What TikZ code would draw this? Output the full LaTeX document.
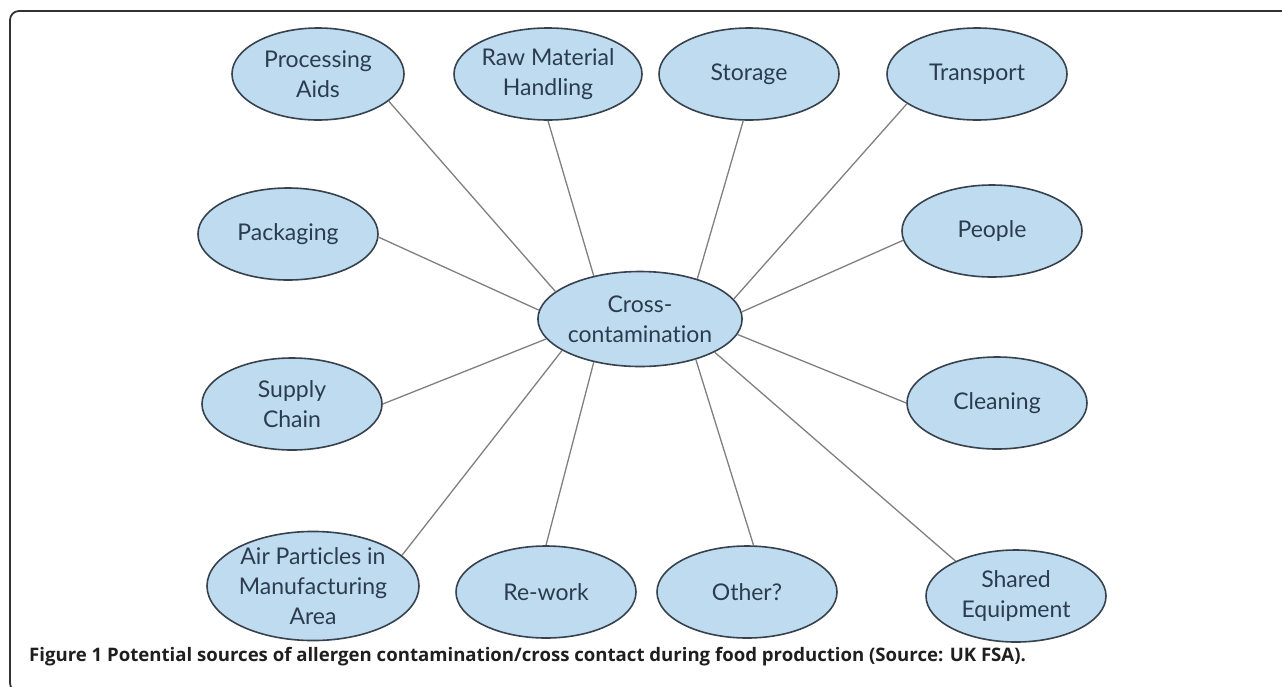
\documentclass[tikz,border=0pt]{standalone}
\usepackage{fontspec}
\setmainfont{Lato}[Ligatures=NoCommon]
\newfontfamily\captionfont{Open Sans}
\usetikzlibrary{shapes.geometric}
\definecolor{bubblefill}{RGB}{190,219,240}
\definecolor{bubbleborder}{RGB}{55,66,78}
\definecolor{bubbletext}{RGB}{44,60,78}
\definecolor{linkgray}{RGB}{128,128,128}
\definecolor{framegray}{RGB}{50,50,50}

\begin{document}
\begin{tikzpicture}[
  x=1pt, y=-1pt,
  % source bubble style
  srcnode/.style={
    ellipse, draw=bubbleborder, fill=bubblefill, line width=1.6pt,
    minimum width=180pt, minimum height=92pt, inner sep=0pt,
    align=center, text=bubbletext, font=\fontsize{23}{30}\selectfont
  },
  % thin grey connector
  conn/.style={linkgray, line width=1.3pt}
]
\useasboundingbox (0,0) rectangle (1282,686);
\fill[white] (0,0) rectangle (1282,686);

% ─── Figure frame ───────────────────────────────────────────────────────────
\draw[framegray, line width=1.8pt, rounded corners=9pt]
  (1300,11) -- (10,11) -- (10,692) -- (1300,692);

% ─── Centre node ────────────────────────────────────────────────────────────
\node[srcnode, minimum width=195pt, minimum height=95pt] (cross)
  at (640,319) {Cross-\\contamination};

% ─── Top row ────────────────────────────────────────────────────────────────
\node[srcnode, minimum width=172pt] (proc) at (318,74) {Processing\\Aids};
\node[srcnode] (raw)   at (548,74) {Raw Material\\Handling};
\node[srcnode] (store) at (749,74) {Storage};
\node[srcnode] (trans) at (977,74) {Transport};

% ─── Middle rows ────────────────────────────────────────────────────────────
\node[srcnode] (pack)   at (288,234) {Packaging};
\node[srcnode] (people) at (992,231) {People};
\node[srcnode] (supply) at (292,404) {Supply\\Chain};
\node[srcnode] (clean)  at (997,403) {Cleaning};

% ─── Bottom row ─────────────────────────────────────────────────────────────
\node[srcnode, minimum width=212pt, minimum height=104pt] (air)
  at (313,586) {Air Particles in\\Manufacturing\\Area};
\node[srcnode] (rework) at (546,592) {Re-work};
\node[srcnode] (other)  at (747,592) {Other?};
\node[srcnode] (shared) at (1016,596) {Shared\\Equipment};

% ─── Spokes ─────────────────────────────────────────────────────────────────
\draw[conn] (cross.162) -- (proc.339);
\draw[conn] (cross.137) -- (raw.270);
\draw[conn] (cross.35)  -- (store.263);
\draw[conn] (cross.12)  -- (trans.203);
\draw[conn] (cross.4)   -- (people.186);
\draw[conn] (cross.351) -- (clean.180);
\draw[conn] (cross.336) -- (shared.150);
\draw[conn] (cross.324) -- (other.82);
\draw[conn] (cross.223) -- (rework.90);
\draw[conn] (cross.202) -- (air.19);
\draw[conn] (cross.192) -- (supply.0);
\draw[conn] (cross.175) -- (pack.358);

% ─── Caption ────────────────────────────────────────────────────────────────
\node[anchor=base west, inner sep=0pt, text=black!88,
      font=\captionfont\bfseries\fontsize{18.6}{21}\selectfont] (caption)
  at (29,661) {Figure 1 Potential sources of allergen contamination/cross contact during food production (Source: UK FSA).};

\end{tikzpicture}
\end{document}
